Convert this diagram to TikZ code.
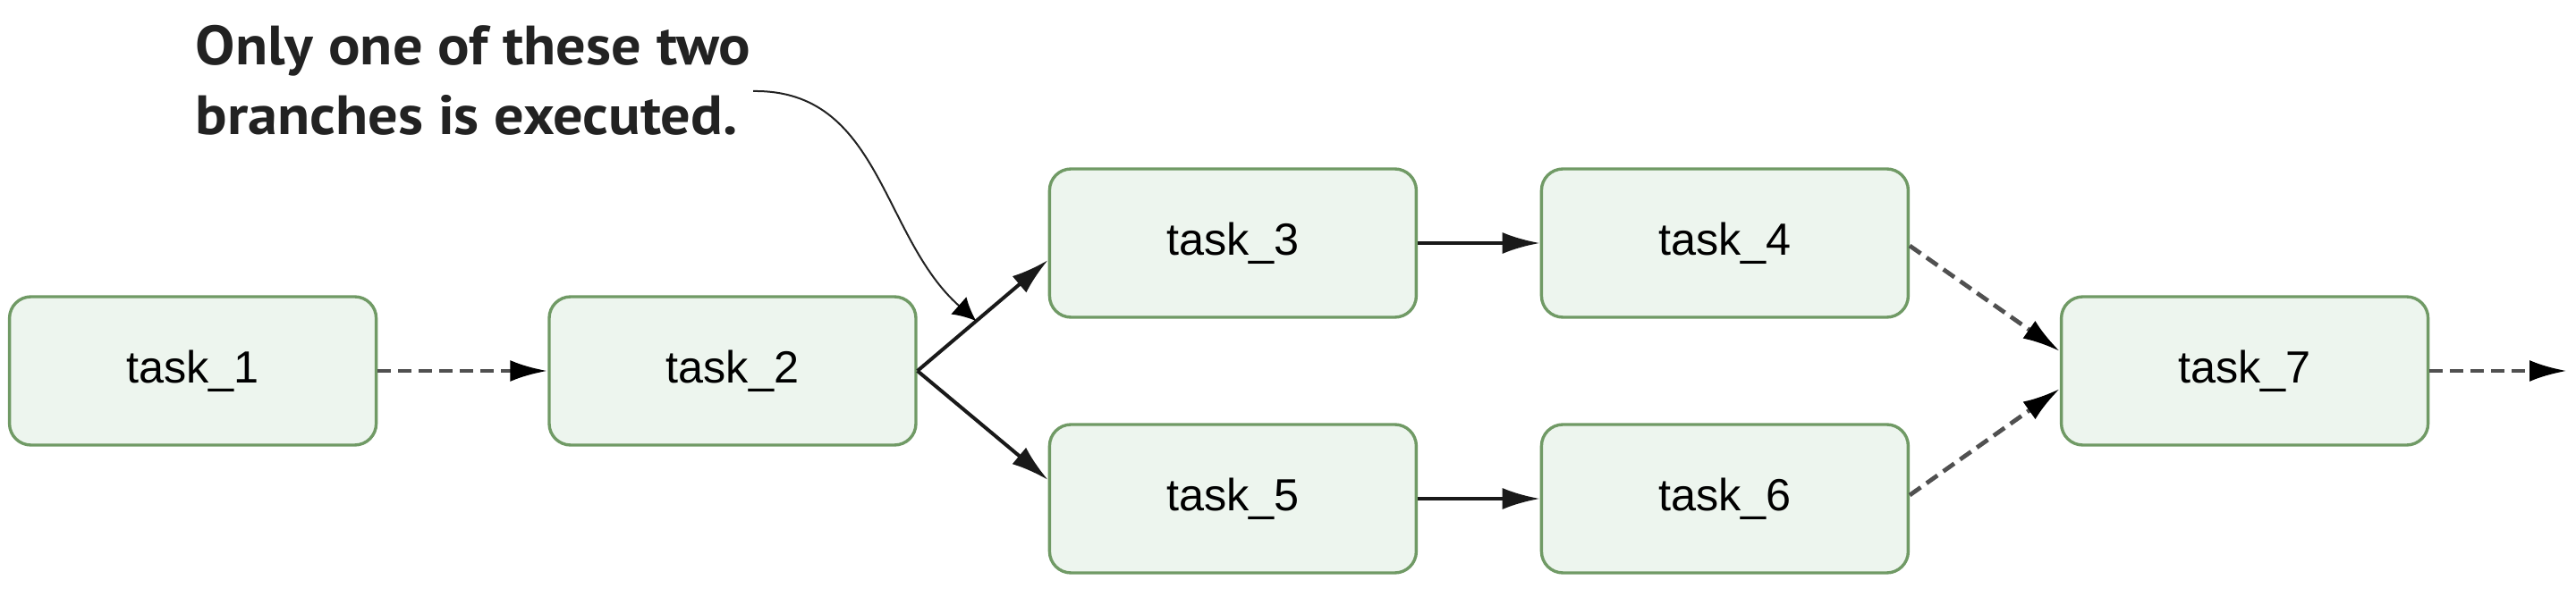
\documentclass[tikz,border=0pt]{standalone}
\usepackage{fontspec}
\setmainfont{Liberation Sans}
\newfontfamily\notefont[FakeStretch=1.07]{PT Sans}
\usetikzlibrary{arrows.meta,calc}
\definecolor{taskfill}{RGB}{237,245,238}
\definecolor{taskline}{RGB}{112,154,101}
\definecolor{dashgray}{RGB}{80,80,80}
\definecolor{notegray}{RGB}{34,34,34}
\tikzset{
  taskbox/.style={draw=taskline,fill=taskfill,line width=0.85bp,rounded corners=6bp,
    minimum width=102.5bp,minimum height=41.5bp,inner sep=0pt,
    font=\fontsize{12.6bp}{15bp}\selectfont},
  solidedge/.style={draw=black!90,line width=1bp,-{Latex[length=10.5bp,width=6bp]}},
  dashededge/.style={draw=dashgray,line width=1.2bp,dash pattern=on 3.75bp off 2bp,
    -{Latex[length=10.5bp,width=6bp,color=black]}},
  notetext/.style={anchor=base west,inner sep=0pt,text=notegray,
    font=\notefont\bfseries\fontsize{15.5bp}{19.75bp}\selectfont},
}
\begin{document}
\begin{tikzpicture}[line join=bevel,]
\useasboundingbox (0bp,0bp) rectangle (720bp,167bp);
%%
\node (task_1) at (53.9bp,63.25bp) [taskbox] {task\_1};
  \node (task_2) at (204.75bp,63.25bp) [taskbox] {task\_2};
  \node (task_3) at (344.6bp,99bp) [taskbox] {task\_3};
  \node (task_4) at (482.1bp,99bp) [taskbox] {task\_4};
  \node (task_5) at (344.6bp,27.5bp) [taskbox] {task\_5};
  \node (task_6) at (482.1bp,27.5bp) [taskbox] {task\_6};
  \node (task_7) at (627.4bp,63.25bp) [taskbox] {task\_7};
  \coordinate (out) at (717.5bp,63.25bp);
%
  \draw [dashededge] (task_1.east) -- (task_2.west);
  \draw [solidedge] (task_2.east) -- ([yshift=-4.75bp]task_3.west);
  \draw [solidedge] (task_2.east) -- ([yshift=5.25bp]task_5.west);
  \draw [solidedge] (task_3.east) -- (task_4.west);
  \draw [solidedge] (task_5.east) -- (task_6.west);
  \draw [dashededge] ([yshift=-0.75bp]task_4.east) -- ([yshift=5.5bp]task_7.west);
  \draw [dashededge] ([yshift=1bp]task_6.east) -- ([yshift=-5bp]task_7.west);
  \draw [dashededge] (task_7.east) -- (out);
%% note
  \node (note_1) at (54.5bp,148.75bp) [notetext] {Only one of these two};
  \node (note_2) at (54.5bp,129.25bp) [notetext] {branches is executed.};
  \coordinate (note_end) at ($(task_2.east)!0.45!([yshift=-4.75bp]task_3.west)$);
  \draw [notegray,line width=0.5bp,-{Latex[length=6.5bp,width=6.5bp,color=black]}]
    (210.5bp,141.5bp) ..controls (246.25bp,142bp) and (246.25bp,100.75bp) .. (note_end);
%
\end{tikzpicture}
\end{document}
